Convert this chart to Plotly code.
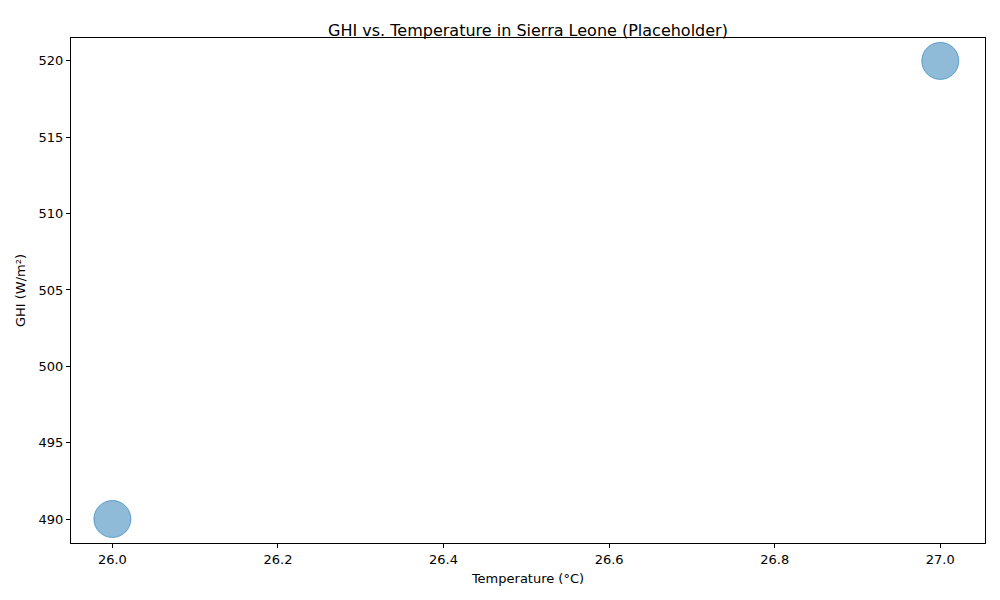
import plotly.graph_objects as go

# Placeholder data
temperature = [26.0, 27.0]
ghi = [490, 520]

fig = go.Figure(go.Scatter(
    x=temperature,
    y=ghi,
    mode='markers',
    marker=dict(size=37, color='rgba(31,119,180,0.5)',
                line=dict(color='rgba(31,119,180,0.6)', width=1)),
))

axis_style = dict(
    showgrid=False, zeroline=False, showline=True, linecolor='black', linewidth=1,
    mirror=True, ticks='outside', ticklen=4, tickcolor='black',
    tickfont=dict(size=13, color='black'),
)

fig.update_layout(
    width=1000, height=600,
    paper_bgcolor='white', plot_bgcolor='white',
    font=dict(family='DejaVu Sans', color='black'),
    title=dict(text='GHI vs. Temperature in Sierra Leone (Placeholder)',
               x=0.52, xanchor='center', y=0.962, yanchor='middle', font=dict(size=16)),
    margin=dict(l=63, r=23, t=30, b=65),
    showlegend=False,
    xaxis=dict(title=dict(text='Temperature (°C)', font=dict(size=13), standoff=8),
               range=[25.95, 27.054], tickvals=[26.0, 26.2, 26.4, 26.6, 26.8, 27.0],
               tickformat='.1f', **axis_style),
    yaxis=dict(title=dict(text='GHI (W/m²)', font=dict(size=13), standoff=10),
               range=[488.43, 521.5], dtick=5, **axis_style),
)

fig.write_html("out.html")
